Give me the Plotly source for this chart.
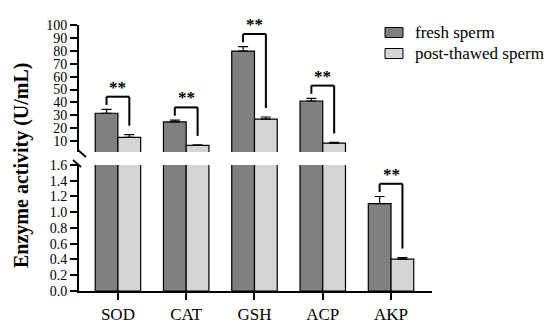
import plotly.graph_objects as go

categories = ["SOD", "CAT", "GSH", "ACP", "AKP"]
fresh = [31.6, 25.0, 79.8, 41.1, 1.11]
fresh_err = [3.0, 1.3, 3.4, 2.1, 0.09]
thawed = [12.9, 6.7, 27.1, 8.5, 0.405]
thawed_err = [2.1, 0.4, 1.6, 0.5, 0.02]
sig_labels = ["**", "**", "**", "**", "**"]
series_names = ["fresh sperm", "post-thawed sperm"]
top_ticks = [10, 20, 30, 40, 50, 60, 70, 80, 90, 100]
bottom_ticks = [0.0, 0.2, 0.4, 0.6, 0.8, 1.0, 1.2, 1.4, 1.6]

FONT = "Liberation Serif, Times New Roman, serif"
W, H = 550, 325
M = dict(l=79, r=118, t=25, b=34)
plot_w = W - M["l"] - M["r"]
plot_h = H - M["t"] - M["b"]
bottom_range = [0, 1.6]
top_range = [1.6, 100]
bottom_dom = [0, 0.4737]
top_dom = [0.5226, 1]
FRESH_C = "#808080"
THAW_C = "#d4d4d4"

def px_to_units(rng, dom):
    return (rng[1] - rng[0]) / ((dom[1] - dom[0]) * plot_h)

def xpx(px):
    return (px - M["l"]) / plot_w

def ypx(py):
    return (H - M["b"] - py) / plot_h

def only_above(vals, lo):
    return [v if v > lo else None for v in vals]

fig = go.Figure()
for yax, lo in (("y", None), ("y2", top_range[0])):
    fy = fresh if lo is None else only_above(fresh, lo)
    ty = thawed if lo is None else only_above(thawed, lo)
    fig.add_trace(go.Bar(
        x=categories, y=fy, name=series_names[0], yaxis=yax, showlegend=False,
        marker=dict(color=FRESH_C, line=dict(color="black", width=1.2)),
        error_y=dict(type="data", array=fresh_err, arrayminus=[0] * 5, symmetric=False,
                     color="black", thickness=1.2, width=5),
    ))
    fig.add_trace(go.Bar(
        x=categories, y=ty, name=series_names[1], yaxis=yax, showlegend=False,
        marker=dict(color=THAW_C, line=dict(color="black", width=1.2)),
        error_y=dict(type="data", array=thawed_err, arrayminus=[0] * 5, symmetric=False,
                     color="black", thickness=1.2, width=5),
    ))

# significance brackets
for i, cat in enumerate(categories):
    f_top = fresh[i] + fresh_err[i]
    t_top = thawed[i] + thawed_err[i]
    if f_top > bottom_range[1]:
        yref, u = "y2", px_to_units(top_range, top_dom)
    else:
        yref, u = "y", px_to_units(bottom_range, bottom_dom)
    y_h = f_top + 12.7 * u
    y_l = f_top + 4.5 * u
    y_r = t_top + 9 * u
    xl, xr = i - 0.167, i + 0.167
    for (x0, y0, x1, y1) in ((xl, y_l, xl, y_h), (xl, y_h, xr, y_h), (xr, y_h, xr, y_r)):
        fig.add_shape(type="line", xref="x", yref=yref, x0=x0, y0=y0, x1=x1, y1=y1,
                      line=dict(color="black", width=2))
    fig.add_annotation(x=i, y=y_h, xref="x", yref=yref, text="<b>" + sig_labels[i] + "</b>",
                       showarrow=False, yanchor="bottom", yshift=-2,
                       font=dict(family=FONT, size=17, color="black"))

# axis break marks
for (px0, py0, px1, py1) in ((78, 150, 86, 157), (73, 160, 81, 167)):
    fig.add_shape(type="line", xref="paper", yref="paper",
                  x0=xpx(px0), y0=ypx(py0), x1=xpx(px1), y1=ypx(py1),
                  line=dict(color="black", width=1.8))

# legend (drawn)
for k, (name, col) in enumerate(zip(series_names, [FRESH_C, THAW_C])):
    cy = 32.5 + 21 * k
    fig.add_shape(type="rect", xref="paper", yref="paper",
                  x0=xpx(385), x1=xpx(403), y0=ypx(cy - 5), y1=ypx(cy + 5),
                  fillcolor=col, line=dict(color="black", width=1))
    fig.add_annotation(text=name, xref="paper", yref="paper", x=xpx(413), y=ypx(cy),
                       xanchor="left", yanchor="middle", showarrow=False,
                       font=dict(family=FONT, size=17, color="black"))

fig.add_annotation(text="<b>Enzyme activity (U/mL)</b>", textangle=-90, xref="paper", yref="paper",
                   x=xpx(21), y=ypx(165),
                   showarrow=False, xanchor="center", yanchor="middle",
                   font=dict(family=FONT, size=20, color="black"))

axis_common = dict(showline=True, linecolor="black", linewidth=2, ticks="outside",
                   ticklen=7, tickwidth=2, tickcolor="black", showgrid=False, zeroline=False,
                   automargin=False,
                   tickfont=dict(family=FONT, size=14, color="black"))

fig.update_layout(
    template="none",
    width=W, height=H, margin=M,
    paper_bgcolor="white", plot_bgcolor="white",
    barmode="group", bargap=0.334, bargroupgap=0,
    font=dict(family=FONT, color="black"),
    showlegend=False,
    xaxis=dict(range=[-0.57, 4.6], showline=True, linecolor="black", linewidth=2,
               ticks="outside", ticklen=7, tickwidth=2, tickcolor="black", showgrid=False,
               zeroline=False, automargin=False,
               tickfont=dict(family=FONT, size=17, color="black"), anchor="y"),
    yaxis=dict(domain=bottom_dom, range=bottom_range, tickvals=bottom_ticks,
               ticktext=[f"{v:.1f}" for v in bottom_ticks], anchor="x", **axis_common),
    yaxis2=dict(domain=top_dom, range=top_range, tickvals=top_ticks,
                ticktext=[str(v) for v in top_ticks], anchor="x", **axis_common),
)

fig.write_html("out.html", config={"displayModeBar": False},
               post_script="document.body.style.margin='0';document.body.style.overflow='hidden';")
